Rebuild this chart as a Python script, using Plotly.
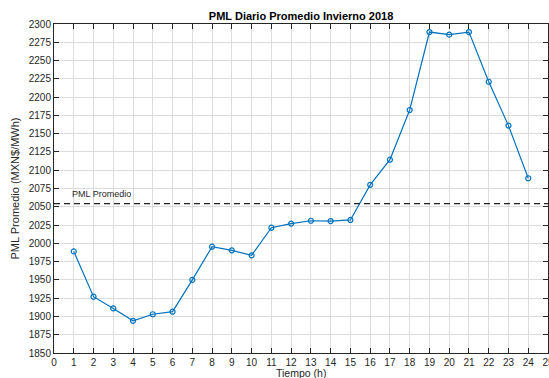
import plotly.graph_objects as go

# Average hourly local marginal price, winter 2018
horas = list(range(1, 25))
pml = [1989, 1927, 1911, 1894, 1903, 1906.5, 1950, 1995.4, 1990.4, 1983.6,
       2021.4, 2027, 2030.9, 2030.5, 2032, 2080, 2114.4, 2182.4, 2289, 2285.4,
       2289, 2221, 2161, 2089]
x_ticks = list(range(0, 26))
y_ticks = list(range(1850, 2301, 25))

pml_promedio = sum(pml) / len(pml)

azul = "#0072BD"
eje = "#262626"
font = "Liberation Sans, Arial, Helvetica, sans-serif"

fig = go.Figure()
fig.add_trace(go.Scatter(
    x=horas, y=pml, mode="lines+markers",
    line=dict(color=azul, width=1.2),
    marker=dict(symbol="circle-open", size=5, color=azul, line=dict(width=1.2)),
    showlegend=False,
))
fig.add_shape(type="line", xref="paper", x0=0, x1=1, yref="y",
              y0=pml_promedio, y1=pml_promedio,
              line=dict(color="#222222", width=1.2, dash="6px,4px"))
fig.add_annotation(x=1, y=pml_promedio, xshift=-3, yshift=4,
                   xanchor="left", yanchor="bottom", borderpad=0,
                   text="PML Promedio", showarrow=False,
                   font=dict(size=9, color=eje, family=font))
# x-axis title placed just below the tick labels
fig.add_annotation(xref="paper", yref="paper", x=0.5, y=0, yshift=-19.5,
                   xanchor="center", yanchor="middle", text="Tiempo (h)",
                   showarrow=False, borderpad=0,
                   font=dict(size=10.5, color=eje, family=font))

axis_common = dict(
    showline=True, linecolor=eje, linewidth=1, mirror="ticks",
    ticks="inside", ticklen=5, tickwidth=1, tickcolor=eje,
    showgrid=True, gridcolor="#dcdcdc", gridwidth=1, zeroline=False,
    tickfont=dict(size=10, color=eje, family=font),
    ticklabeloverflow="allow", automargin=False,
)
fig.update_xaxes(range=[0, 25], tickvals=x_ticks, **axis_common)
fig.update_yaxes(range=[1850, 2300], tickvals=y_ticks,
                 title=dict(text="PML Promedio (MXN$/MWh)", standoff=6,
                            font=dict(size=11, color=eje, family=font)),
                 **axis_common)

fig.update_layout(
    width=549, height=378,
    margin=dict(l=54, r=1, t=24, b=25),
    paper_bgcolor="white", plot_bgcolor="white",
    title=dict(text="<b>PML Diario Promedio Invierno 2018</b>",
               x=0.5484, xanchor="center", y=0.957, yanchor="middle",
               font=dict(size=11, color="black", family=font)),
)

fig.write_html("out.html")
